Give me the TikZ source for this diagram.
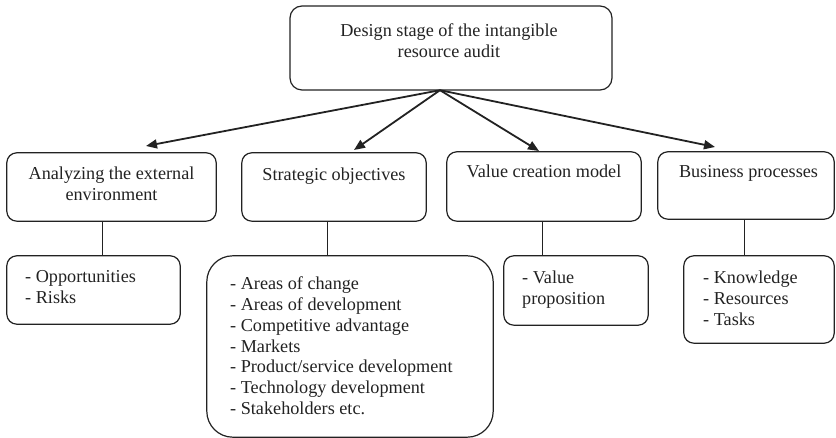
\documentclass[tikz,border=0pt]{standalone}
\usepackage{fontspec}
\setmainfont{Liberation Serif}
\usetikzlibrary{arrows.meta}
\definecolor{ink}{HTML}{222222}
\begin{document}
\begin{tikzpicture}[x=1bp,y=-1bp,
  box/.style={draw=ink, line width=1.2bp, rounded corners=10bp, inner sep=0pt},
  txt/.style={inner sep=0pt, text=ink, font=\fontsize{18.2bp}{21bp}\selectfont},
  link/.style={draw=ink, line width=1.8bp, -{Triangle[length=11bp,width=9bp]}},
  stem/.style={draw=ink, line width=1bp}]
\useasboundingbox (0,0) rectangle (836,438);
% boxes
\draw[box, rounded corners=12bp] (290,6) rectangle (612,90);
\node[inner sep=0pt, minimum width=322bp, minimum height=84bp] (top) at (451,48) {};
\node[inner sep=0pt, minimum width=209bp, minimum height=68bp] (b1) at (111.5,187) {};
\node[inner sep=0pt, minimum width=184bp, minimum height=68bp] (b2) at (334,187) {};
\node[inner sep=0pt, minimum width=194bp, minimum height=69bp] (b3) at (544,186.5) {};
\node[inner sep=0pt, minimum width=176bp, minimum height=67bp] (b4) at (746,185.5) {};
\node[inner sep=0pt, minimum width=173bp, minimum height=68bp] (s1) at (93.5,290) {};
\node[inner sep=0pt, minimum width=286bp, minimum height=181bp] (s2) at (350,346.5) {};
\node[inner sep=0pt, minimum width=144bp, minimum height=69bp] (s3) at (576,290.5) {};
\node[inner sep=0pt, minimum width=150bp, minimum height=87bp] (s4) at (759,299.5) {};
\foreach \n in {b1,b2,b3,b4,s1,s3,s4}{\draw[box] (\n.south west) rectangle (\n.north east);}
\draw[box, rounded corners=26bp] (s2.south west) rectangle (s2.north east);
% texts (base anchor of a multi-line node = last line's baseline)
\node[txt, anchor=base, align=center] (ttop) at (449,58) {Design stage of the intangible\\resource audit};
\node[txt, anchor=base, align=center] (tb1) at (111.5,201) {Analyzing the external\\environment};
\node[txt, anchor=base, align=center] (tb2) at (334,181) {Strategic objectives};
\node[txt, anchor=base, align=center] (tb3) at (544,178) {Value creation model};
\node[txt, anchor=base, align=center] (tb4) at (748.5,178) {Business processes};
\node[txt, anchor=base west, align=left] (ts1) at (25,304) {- Opportunities\\- Risks};
\node[txt, anchor=base west, align=left, font=\fontsize{18.2bp}{20.8bp}\selectfont] (ts2) at (230,414.4) {- Areas of change\\- Areas of development\\- Competitive advantage\\- Markets\\- Product/service development\\- Technology development\\- Stakeholders etc.};
\node[txt, anchor=base west, align=left] (ts3) at (522,305) {- Value\\proposition};
\node[txt, anchor=base west, align=left] (ts4) at (703,326) {- Knowledge\\- Resources\\- Tasks};
% arrows
\coordinate (hub) at (440,90);
\coordinate (e1) at (146,146);
\coordinate (e2) at (354,150);
\coordinate (e3) at (539,151);
\coordinate (e4) at (715,147);
\foreach \e in {e1,e2,e3,e4}{\draw[link] (top.south -| hub) -- (\e);}
% stems
\coordinate (c1) at (102,0);
\coordinate (c2) at (327,0);
\coordinate (c3) at (542,0);
\coordinate (c4) at (744,0);
\draw[stem] (b1.south -| c1) -- (s1.north -| c1);
\draw[stem] (b2.south -| c2) -- (s2.north -| c2);
\draw[stem] (b3.south -| c3) -- (s3.north -| c3);
\draw[stem] (b4.south -| c4) -- (s4.north -| c4);
\end{tikzpicture}
\end{document}
